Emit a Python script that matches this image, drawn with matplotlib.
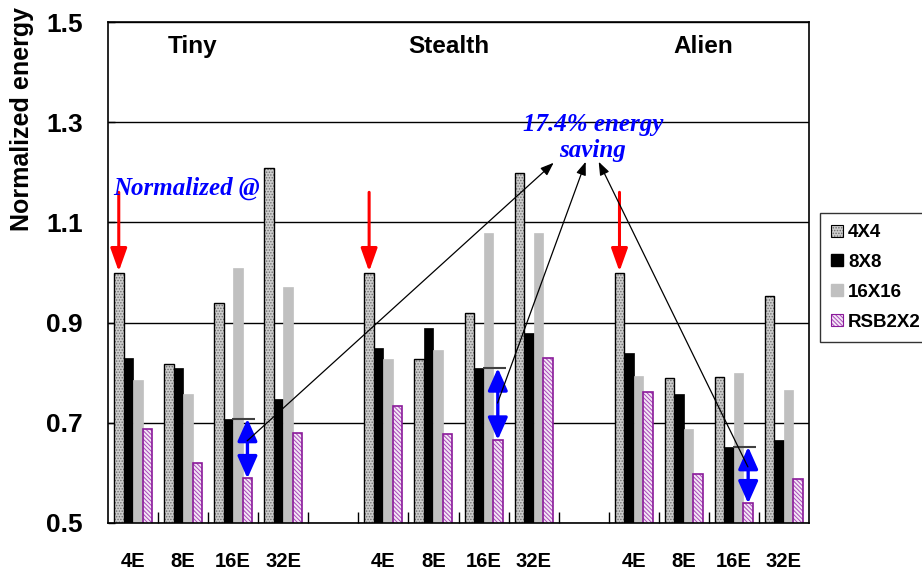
import matplotlib
matplotlib.use("Agg")
import matplotlib.pyplot as plt
from matplotlib.patches import Patch

plt.rcParams["font.family"] = "Liberation Sans"
plt.rcParams["hatch.linewidth"] = 0.7

# ---- data -------------------------------------------------------------
benchmarks = ["Tiny", "Stealth", "Alien"]
configs = ["4E", "8E", "16E", "32E"]
series_names = ["4X4", "8X8", "16X16", "RSB2X2"]

# normalized energy, ordered Tiny 4E..32E, Stealth 4E..32E, Alien 4E..32E
e_4x4 = [1.00, 0.818, 0.939, 1.208, 1.00, 0.828, 0.919, 1.199, 1.00, 0.789, 0.791, 0.954]
e_8x8 = [0.829, 0.810, 0.708, 0.747, 0.850, 0.890, 0.809, 0.880, 0.839, 0.757, 0.652, 0.666]
e_16x16 = [0.785, 0.758, 1.009, 0.971, 0.827, 0.845, 1.078, 1.078, 0.794, 0.688, 0.799, 0.766]
e_rsb = [0.688, 0.620, 0.589, 0.679, 0.733, 0.677, 0.666, 0.829, 0.761, 0.597, 0.539, 0.588]

y_ticks = [0.5, 0.7, 0.9, 1.1, 1.3, 1.5]
saving_text = "17.4% energy\nsaving"

# ---- layout -------------------------------------------------------------
fig = plt.figure(figsize=(9.22, 5.70), dpi=100)
ax = fig.add_axes([108 / 922, 47 / 570, 701 / 922, 501 / 570])

# four slots per benchmark with an empty slot between benchmarks
slot_pos = []
for g in range(len(benchmarks)):
    slot_pos += [g * 5 + k for k in range(len(configs))]

bw = 0.19
offsets = [-1.5 * bw, -0.5 * bw, 0.5 * bw, 1.5 * bw]

def xs(i):
    return [p + offsets[i] for p in slot_pos]

stipple = "......"
diag = "\\\\\\\\\\\\\\\\"

# 4X4: stippled gray with black outline
ax.bar(xs(0), e_4x4, bw, color="#cdcdcd", hatch=stipple,
       edgecolor="#6e6e6e", linewidth=0, zorder=2)
ax.bar(xs(0), e_4x4, bw, fill=False, edgecolor="black", linewidth=1.0, zorder=2.1)
# 8X8: solid black
ax.bar(xs(1), e_8x8, bw, color="black", edgecolor="black", linewidth=0.5, zorder=2)
# 16X16: plain light gray
ax.bar(xs(2), e_16x16, bw, color="#c0c0c0", edgecolor="#c0c0c0", linewidth=0.5, zorder=2)
# RSB2X2: purple diagonal hatch
ax.bar(xs(3), e_rsb, bw, color="#f4e6f6", hatch=diag,
       edgecolor="#a848b8", linewidth=0, zorder=2)
ax.bar(xs(3), e_rsb, bw, fill=False, edgecolor="#8a1a9a", linewidth=1.2, zorder=2.1)

ax.set_xlim(-0.5, 13.5)
ax.set_ylim(0.5, 1.5)
ax.set_yticks(y_ticks)
ax.set_yticklabels([f"{t:.1f}" for t in y_ticks], fontsize=19, fontweight="bold")
ax.set_xticks(slot_pos)
ax.set_xticklabels(configs * len(benchmarks), fontsize=14.5, fontweight="bold")
ax.set_xticks([k + 0.5 for k in range(13)], minor=True)
ax.tick_params(axis="x", which="major", length=0, pad=21)
ax.tick_params(axis="x", which="minor", direction="in", length=8, width=1)
ax.tick_params(axis="y", direction="in", length=5, width=1, pad=18)
ax.yaxis.grid(True, color="black", linewidth=1.0)
ax.set_axisbelow(True)
for s in ax.spines.values():
    s.set_linewidth(1.2)
    s.set_zorder(5)

# benchmark names
name_x = [1.18, 6.30, 11.38]
for nx, name in zip(name_x, benchmarks):
    ax.text(nx, 1.452, name, ha="center", va="center", fontsize=17.5, fontweight="bold")

fig.text(22 / 922, 1 - 119 / 570, "Normalized energy", rotation=90, ha="center",
         va="center", fontsize=18, fontweight="bold")

serif = "Liberation Serif"

# red arrows marking the normalization baseline
for g in range(len(benchmarks)):
    x = slot_pos[g * 4] + offsets[0]
    ax.annotate("", xy=(x, e_4x4[g * 4] + 0.002), xytext=(x, 1.16),
                arrowprops=dict(arrowstyle="-|>,head_length=1.4,head_width=0.5",
                                mutation_scale=10, color="red", lw=2.2,
                                shrinkA=0, shrinkB=0), zorder=6)
ax.text(-0.4, 1.1547, "Normalized @", ha="left", va="baseline", color="blue",
        fontsize=18, fontweight="bold", fontstyle="italic", family=serif, zorder=6)

# 16E: gap between the 8X8 bar and the RSB2X2 bar
for g in range(len(benchmarks)):
    i = g * 4 + 2
    p = slot_pos[i]
    ax.plot([p - 0.02, p + 0.44], [e_8x8[i], e_8x8[i]], color="#404040", lw=1.5,
            solid_capstyle="butt", zorder=3)
    ax.annotate("", xy=(p + offsets[3], e_rsb[i]), xytext=(p + offsets[3], e_8x8[i]),
                arrowprops=dict(arrowstyle="<|-|>,head_length=1.35,head_width=0.6",
                                mutation_scale=10, color="blue", lw=2.4,
                                shrinkA=0, shrinkB=0), zorder=6)

# pointers to the saving label
pointer_from = [(2.28, 0.664), (7.28, 0.7395), (12.28, 0.612)]
pointer_to = [(8.40, 1.219), (9.04, 1.221), (9.30, 1.221)]
for (x0, y0), (x1, y1) in zip(pointer_from, pointer_to):
    ax.annotate("", xy=(x1, y1), xytext=(x0, y0),
                arrowprops=dict(arrowstyle="-|>,head_length=0.8,head_width=0.3",
                                mutation_scale=10, color="black", lw=0.9,
                                shrinkA=0, shrinkB=0), zorder=7)
ax.text(9.18, 1.27, saving_text, ha="center", va="center", color="blue",
        fontsize=18, fontweight="bold", fontstyle="italic", family=serif,
        linespacing=1.15, zorder=8)

# legend
handles = [
    (Patch(facecolor="#cdcdcd", hatch=stipple, edgecolor="#6e6e6e", linewidth=0),
     Patch(fill=False, edgecolor="black", linewidth=0.8)),
    Patch(facecolor="black", edgecolor="black"),
    Patch(facecolor="#c0c0c0", edgecolor="#c0c0c0"),
    (Patch(facecolor="#f4e6f6", hatch=diag, edgecolor="#a848b8", linewidth=0),
     Patch(fill=False, edgecolor="#8a1a9a", linewidth=0.8)),
]
leg = fig.legend(handles, series_names, loc="upper left",
                 bbox_to_anchor=(820 / 922, 1 - 213 / 570), borderaxespad=0,
                 prop=dict(family="Liberation Sans", weight="bold", size=13.5),
                 handlelength=0.6, handleheight=0.6, handletextpad=0.3,
                 labelspacing=0.68, borderpad=0.6, fancybox=False, frameon=True)
leg.get_frame().set_edgecolor("black")
leg.get_frame().set_linewidth(1.0)

fig.savefig("out.png", dpi=100, facecolor="white")
